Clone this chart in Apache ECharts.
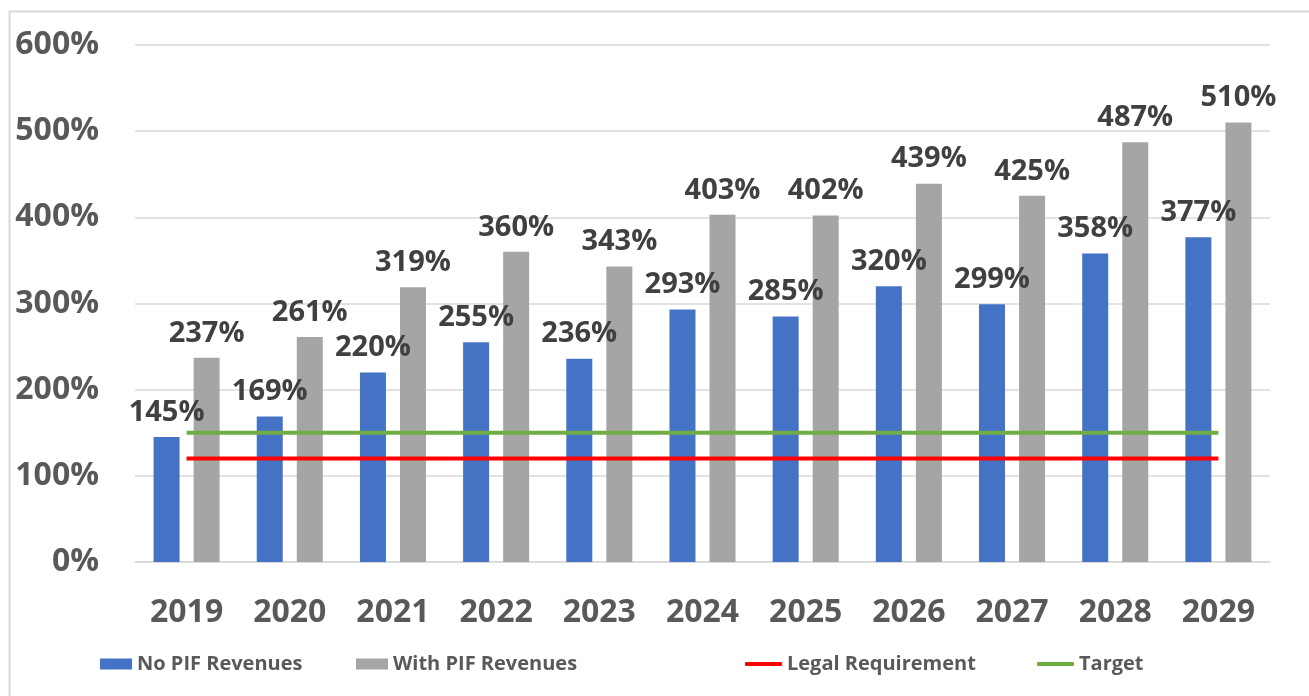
<!DOCTYPE html>
<html>
<head>
<meta charset="utf-8">
<style>
  html, body { margin: 0; padding: 0; background: #ffffff; }
  #chart { width: 1309px; height: 696px; }
</style>
<script src="https://cdn.jsdelivr.net/npm/echarts@6/dist/echarts.min.js"></script>
</head>
<body>
<div id="chart"></div>
<script>
// Coverage ratios by year
const years = ['2019', '2020', '2021', '2022', '2023', '2024', '2025', '2026', '2027', '2028', '2029'];
const noPifRevenues = [145, 169, 220, 255, 236, 293, 285, 320, 299, 358, 377];
const withPifRevenues = [237, 261, 319, 360, 343, 403, 402, 439, 425, 487, 510];
const legalRequirement = [120, 120, 120, 120, 120, 120, 120, 120, 120, 120, 120];
const target = [150, 150, 150, 150, 150, 150, 150, 150, 150, 150, 150];
const yTicks = { min: 0, max: 600, interval: 100 };

const FONT = '"Open Sans", "Liberation Sans", sans-serif';

const chart = echarts.init(document.getElementById('chart'), null, { renderer: 'canvas' });

const barLabel = {
  show: true,
  position: 'top',
  distance: 10,
  formatter: p => p.value + '%',
  fontFamily: FONT,
  fontWeight: 'bold',
  fontSize: 29,
  color: '#404040'
};

// One legend block per entry so each sits at its own x position
function legendAt(entry, left, opts) {
  return Object.assign({
    data: [entry],
    left: left,
    top: 654,
    padding: 0,
    orient: 'horizontal',
    itemGap: 0,
    itemWidth: 32,
    itemHeight: 11,
    selectedMode: false,
    textStyle: {
      fontFamily: FONT,
      fontWeight: 'bold',
      fontSize: 20,
      color: '#595959',
      padding: [0, 0, 0, 0]
    }
  }, opts || {});
}

const option = {
  backgroundColor: '#ffffff',
  animation: false,
  graphic: [{
    type: 'rect',
    left: 7,
    top: 9,
    shape: { width: 1330, height: 720 },
    style: { fill: 'none', stroke: '#d9d9d9', lineWidth: 2 },
    silent: true,
    z: -10
  }],
  grid: { left: 135, right: 39, top: 45, bottom: 134, containLabel: false },
  legend: [
    legendAt({ name: 'No PIF Revenues', icon: 'rect' }, 100),
    legendAt({ name: 'With PIF Revenues', icon: 'rect' }, 356),
    legendAt({ name: 'Legal Requirement', icon: 'roundRect' }, 745, { itemWidth: 37, itemHeight: 4 }),
    legendAt({ name: 'Target', icon: 'roundRect' }, 1037, { itemWidth: 37, itemHeight: 4 })
  ],
  xAxis: {
    type: 'category',
    data: years,
    boundaryGap: true,
    axisLine: { show: true, lineStyle: { color: '#d9d9d9', width: 1.5 } },
    axisTick: { show: false },
    axisLabel: {
      margin: 35,
      fontFamily: FONT,
      fontWeight: 'bold',
      fontSize: 32,
      color: '#595959'
    }
  },
  yAxis: {
    type: 'value',
    min: yTicks.min,
    max: yTicks.max,
    interval: yTicks.interval,
    axisLine: { show: false },
    axisTick: { show: false },
    splitLine: { lineStyle: { color: '#d9d9d9', width: 1.5 } },
    axisLabel: {
      margin: 36,
      formatter: v => v + '%',
      fontFamily: FONT,
      fontWeight: 'bold',
      fontSize: 32,
      color: '#595959'
    }
  },
  series: [
    {
      name: 'No PIF Revenues',
      type: 'bar',
      data: noPifRevenues,
      barWidth: 26,
      barGap: '54%',
      itemStyle: { color: '#4472c4' },
      label: barLabel,
      z: 2
    },
    {
      name: 'With PIF Revenues',
      type: 'bar',
      data: withPifRevenues,
      barWidth: 26,
      barGap: '54%',
      itemStyle: { color: '#a5a5a5' },
      label: barLabel,
      z: 2
    },
    {
      name: 'Legal Requirement',
      type: 'line',
      data: legalRequirement,
      symbol: 'none',
      lineStyle: { color: '#ff0000', width: 4 },
      itemStyle: { color: '#ff0000' },
      z: 3
    },
    {
      name: 'Target',
      type: 'line',
      data: target,
      symbol: 'none',
      lineStyle: { color: '#70ad47', width: 4 },
      itemStyle: { color: '#70ad47' },
      z: 3
    }
  ]
};

chart.setOption(option);
</script>
</body>
</html>
